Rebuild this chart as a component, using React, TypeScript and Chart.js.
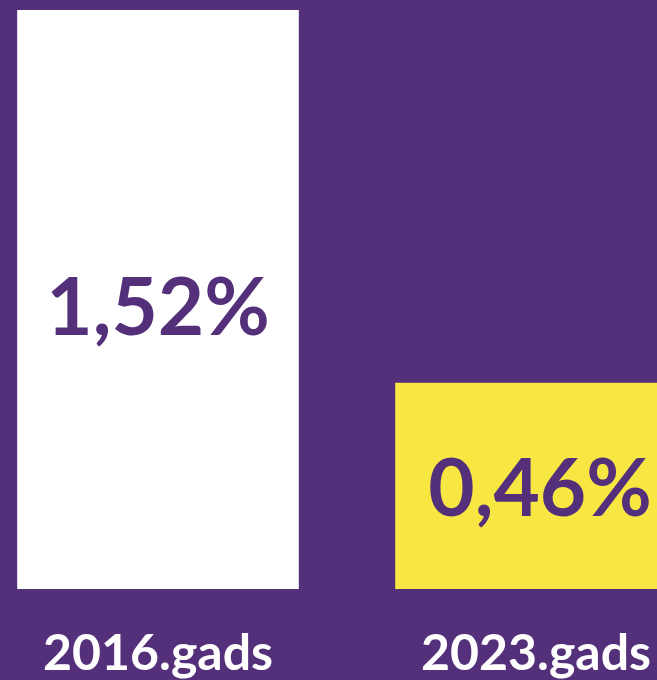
import React, { useEffect, useRef } from "react";
import { Chart, registerables } from "chart.js";

Chart.register(...registerables);

const categories = ["2016.gads", "2023.gads"];
const values = [1.52, 0.46];
const barColors = ["#FFFFFF", "#F8E642"];
const AXIS_MIN = -0.127;
const AXIS_MAX = 1.52;

const PURPLE = "#54307A";
const FONT = "Lato, 'Open Sans', sans-serif";

const valueLabelPlugin = {
  id: "valueLabels",
  afterDatasetsDraw(chart: any) {
    const { ctx } = chart;
    const meta = chart.getDatasetMeta(0);
    ctx.save();
    ctx.fillStyle = PURPLE;
    ctx.font = `bold 80px ${FONT}`;
    ctx.textAlign = "center";
    ctx.textBaseline = "middle";
    meta.data.forEach((bar: any, i: number) => {
      const v = values[i];
      const text = v.toFixed(2).replace(".", ",") + "%";
      const cy = bar.y + (bar.base - bar.y) * 0.515;
      ctx.fillText(text, bar.x + (i === 1 ? 4 : 0), cy + 1);
    });
    ctx.restore();
  },
};

export default function App() {
  const ref = useRef<HTMLCanvasElement>(null);
  useEffect(() => {
    if (!ref.current) return;
    const chart = new Chart(ref.current, {
      type: "bar",
      data: {
        labels: categories,
        datasets: [
          {
            data: values,
            backgroundColor: barColors,
            borderWidth: 0,
            base: AXIS_MIN,
            barPercentage: 0.745,
            categoryPercentage: 1,
          } as any,
        ],
      },
      options: {
        responsive: false,
        animation: false,
        devicePixelRatio: 1,
        layout: { padding: { top: 10, left: 0, right: 0, bottom: 0 } },
        plugins: {
          legend: { display: false },
          tooltip: { enabled: false },
        },
        scales: {
          x: {
            offset: true,
            grid: { display: false, drawTicks: false },
            border: { display: false },
            ticks: {
              color: "#FFFFFF",
              font: { family: FONT, size: 50, weight: "bold" as any },
              padding: 35,
              maxRotation: 0,
              autoSkip: false,
            },
          },
          y: {
            display: false,
            min: AXIS_MIN,
            max: AXIS_MAX,
          },
        },
      },
      plugins: [valueLabelPlugin],
    });
    return () => chart.destroy();
  }, []);

  return (
    <div
      style={{
        position: "fixed",
        left: 0,
        top: 0,
        width: 657,
        height: 680,
        overflow: "hidden",
        background: PURPLE,
      }}
    >
      <canvas
        ref={ref}
        width={756}
        height={719}
        style={{ position: "absolute", left: -31, top: 0, width: 756, height: 719 }}
      />
    </div>
  );
}
